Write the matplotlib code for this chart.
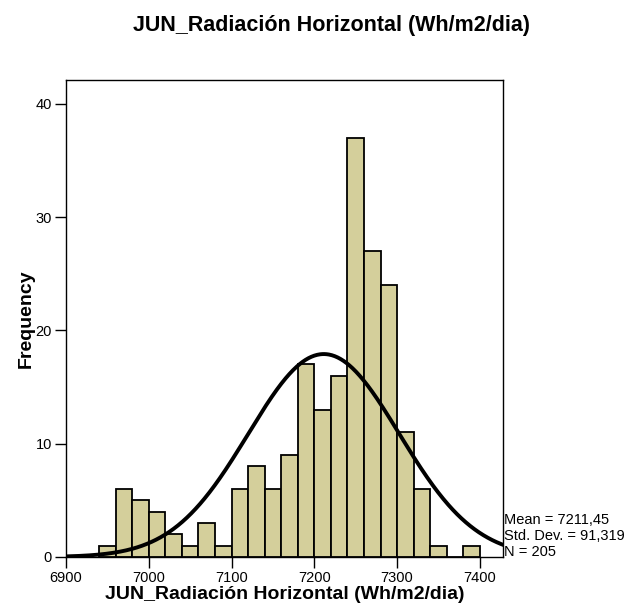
import numpy as np
import matplotlib
matplotlib.use("Agg")
import matplotlib.pyplot as plt

plt.rcParams['font.family'] = ['Liberation Sans', 'DejaVu Sans']

bin_edges = list(range(6940, 7401, 20))
counts = [1, 6, 5, 4, 2, 1, 3, 1, 6, 8, 6, 9, 17, 13, 16, 37, 27, 24, 11, 6, 1, 0, 1]
mean = 7211.45
std = 91.319
n = 205
bin_width = 20
title = "JUN_Radiación Horizontal (Wh/m2/dia)"
xticks = [6900, 7000, 7100, 7200, 7300, 7400]
yticks = [0, 10, 20, 30, 40]
stats_lines = ["Mean = 7211,45", "Std. Dev. = 91,319", "N = 205"]

fig = plt.figure(figsize=(6.26, 6.14), dpi=100)
ax = fig.add_axes([66/626, 1-557/614, (503-66)/626, (557-80)/614])

lefts = bin_edges[:-1]
ax.bar(lefts, counts, width=bin_width, align='edge', color='#d4cf9b',
       edgecolor='black', linewidth=1.3, zorder=2)

xs = np.linspace(6900, 7430, 600)
ys = n * bin_width / (std * np.sqrt(2*np.pi)) * np.exp(-0.5*((xs-mean)/std)**2)
ax.plot(xs, ys, color='black', linewidth=2.8, zorder=3, solid_capstyle='butt')

ax.set_xlim(6900, 7428)
ax.set_ylim(0, 42.1)
ax.set_xticks(xticks)
ax.set_yticks(yticks)
ax.tick_params(axis='both', direction='out', length=8, width=1, labelsize=10.5, pad=2)
for s in ax.spines.values():
    s.set_linewidth(1.0)

ax.set_xlabel(title, fontsize=14, fontweight='bold', labelpad=1)
ax.set_ylabel("Frequency", fontsize=14, fontweight='bold', labelpad=1)
fig.text(133/626, 1-25/614, title, ha='left', va='center', fontsize=15.5, fontweight='bold')

for i, line in enumerate(stats_lines):
    fig.text(504/626, 1-(520+16*i)/614, line, ha='left', va='center', fontsize=10.5)

fig.savefig("out.png", dpi=100)
